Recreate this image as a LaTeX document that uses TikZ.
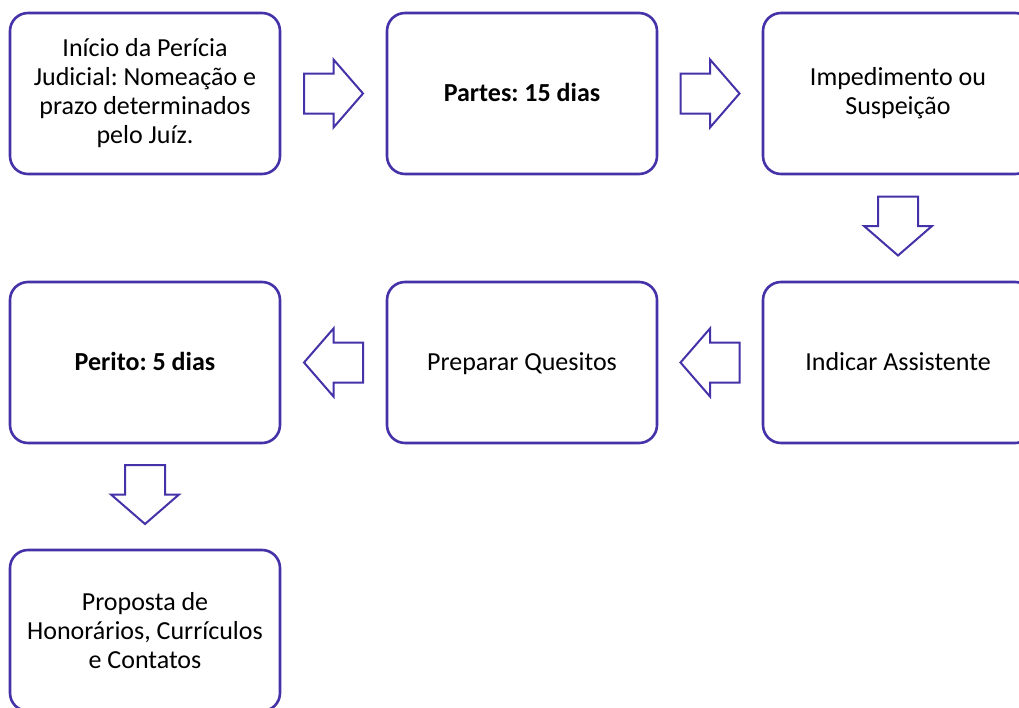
\documentclass[tikz,border=0pt]{standalone}
\usepackage{fontspec}
\setmainfont{Carlito}
\usetikzlibrary{calc}
\definecolor{pline}{RGB}{68,50,168}
\newcommand{\onestrut}{\rule[-6pt]{0pt}{28pt}}
\tikzset{
  x=1pt,y=-1pt,
  stepbox/.style={draw=pline,line width=2.6pt,rounded corners=18pt,fill=white,
    minimum width=270pt,minimum height=161pt,align=center,inner sep=0pt,
    font=\fontsize{26pt}{29pt}\selectfont\frenchspacing,text=black},
  arrowline/.style={draw=pline,line width=2pt,fill=white,line join=miter},
  blockarrow/.pic={\draw[arrowline] (-29.5,-20) -- (0,-20) -- (0,-34) -- (29.5,0) -- (0,34) -- (0,20) -- (-29.5,20) -- cycle;}
}
\begin{document}
\begin{tikzpicture}
\fill[white] (0,0) rectangle (1019,707);
\useasboundingbox (0,0) rectangle (1019,707);
\clip (0,0) rectangle (1019,707);
\node[stepbox] (b1) at (145,93.5) {Início da Perícia\\Judicial: Nomeação e\\prazo determinados\\pelo Juíz.};
\node[stepbox] (b2) at (522,93.5) {\onestrut\textbf{Partes: 15 dias}};
\node[stepbox] (b3) at (898,93.5) {Impedimento ou\\Suspeição};
\node[stepbox] (b4) at (898,362.5) {\onestrut Indicar Assistente};
\node[stepbox] (b5) at (522,362.5) {\onestrut Preparar Quesitos};
\node[stepbox] (b6) at (145,362.5) {\onestrut\textbf{Perito: 5 dias}};
\node[stepbox] (b7) at (145,630.5) {Proposta de\\Honorários, Currículos\\e Contatos};
\pic at ($(b1.east)!0.5!(b2.west)$) {blockarrow};
\pic at ($(b2.east)!0.5!(b3.west)$) {blockarrow};
\pic[rotate=-90] at ($(b3.south)!0.5!(b4.north)+(0,-2)$) {blockarrow};
\pic[rotate=180] at ($(b4.west)!0.5!(b5.east)$) {blockarrow};
\pic[rotate=180] at ($(b5.west)!0.5!(b6.east)$) {blockarrow};
\pic[rotate=-90] at ($(b6.south)!0.5!(b7.north)+(0,-2)$) {blockarrow};
\end{tikzpicture}
\end{document}
